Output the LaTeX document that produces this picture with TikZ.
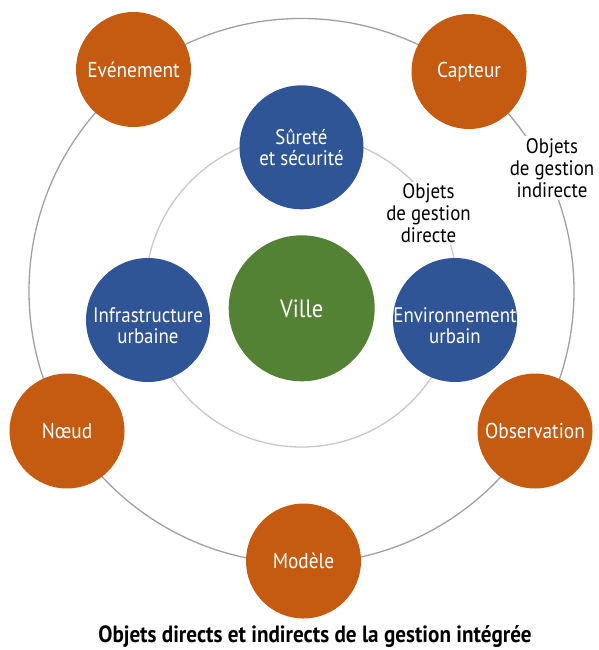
\documentclass[tikz,border=0pt]{standalone}
\usepackage{fontspec}
\setmainfont{PT Sans}[FakeStretch=0.9]
\definecolor{orng}{HTML}{C55A11}
\definecolor{blu}{HTML}{2F5597}
\definecolor{grn}{HTML}{548235}
\definecolor{ringout}{RGB}{160,160,160}
\definecolor{ringin}{RGB}{200,200,200}
\tikzset{
  x=1pt, y=-1pt,
  outer/.style={circle, fill=orng, minimum size=115pt, inner sep=0pt, text=white, align=center, font=\fontsize{21.5}{22}\selectfont},
  inner/.style={circle, fill=blu, minimum size=124pt, inner sep=0pt, text=white, align=center, font=\fontsize{21}{21}\selectfont},
  bluetxt/.style={text=white, align=center, font=\fontsize{21}{21}\selectfont},
  core/.style={circle, fill=grn, minimum size=146pt, inner sep=0pt, text=white, font=\fontsize{25}{26}\selectfont},
  ringlabel/.style={fill=white, align=center, inner sep=2pt, font=\fontsize{21}{22}\selectfont},
}
\begin{document}
\begin{tikzpicture}
\useasboundingbox (0,0) rectangle (598,650);
\coordinate (c) at (301.5,291);
\draw[ringout, line width=1.3pt] (c) circle[radius=272.5pt];
\draw[ringin, line width=1.3pt] (c) circle[radius=156pt];

\node[ringlabel] (ldir) at (428.5,213.5) {Objets\\de gestion\\directe};
\node[ringlabel] (lind) at (552,168) {Objets\\de gestion\\indirecte};

\node[outer] (ev) at (133.5,69.5) {Evénement};
\node[outer] (cap) at (469,71.5) {Capteur};
\node[outer] (noeud) at (67,431) {Nœud};
\node[outer] (obs) at (535,431) {Observation};
\node[outer] (mod) at (303.5,561) {Modèle};

\node[inner] (sur) at (301.5,147.3) {Sûreté\\et sécurité};
\node[inner, label={[bluetxt,yshift=-6pt]center:Infrastructure\\urbaine}] (infra) at (148,320) {};
\node[inner, label={[bluetxt,yshift=-6pt]center:Environnement\\urbain}] (env) at (455,320) {};
\node[core] (ville) at (301.7,308.3) {Ville};

\node[anchor=base, font=\fontsize{23.5}{25}\selectfont\bfseries] (title) at (315,642.5) {Objets directs et indirects de la gestion intégrée};
\end{tikzpicture}
\end{document}
